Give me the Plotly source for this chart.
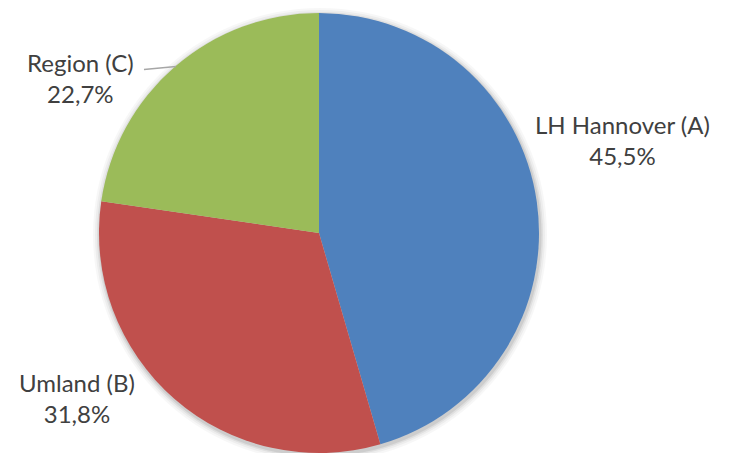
import plotly.graph_objects as go

labels = ["LH Hannover (A)", "Umland (B)", "Region (C)"]
values = [45.5, 31.8, 22.7]
colors = ["#4F81BD", "#C0504D", "#9BBB59"]

W, H = 729, 453
OFF = 8  # page body margin offset
cx, cy, r = 319 - OFF, 233 - OFF, 220  # pixel geometry of the pie (figure coords)

fig = go.Figure()
fig.add_trace(go.Pie(
    labels=labels, values=values, sort=False, direction="clockwise", rotation=0,
    marker=dict(colors=colors, line=dict(width=0)),
    textinfo="none", hoverinfo="label+percent", showlegend=False,
    domain=dict(x=[(cx - r) / W, (cx + r) / W], y=[(H - cy - r) / H, (H - cy + r) / H]),
))

# soft shadow around the pie
shapes = []
for extra, op in [(7, 0.03), (5, 0.04), (3, 0.06), (1.5, 0.08)]:
    shapes.append(dict(
        type="circle", xref="paper", yref="paper", xsizemode="pixel", ysizemode="pixel",
        xanchor=(cx + 1) / W, yanchor=(H - cy - 2) / H,
        x0=-(r + extra), x1=r + extra, y0=-(r + extra), y1=r + extra,
        fillcolor=f"rgba(0,0,0,{op})", line=dict(width=0), layer="below",
    ))
# leader line for Region (C)
shapes.append(dict(type="line", xref="paper", yref="paper",
                   x0=(144 - OFF) / W, y0=1 - (69.5 - OFF) / H,
                   x1=(176 - OFF) / W, y1=1 - (66.5 - OFF) / H,
                   line=dict(color="#A6A6A6", width=1.3)))

label_pos = [(622, 140), (77, 398), (80, 78)]
annotations = []
for lab, val, (px, py) in zip(labels, values, label_pos):
    annotations.append(dict(
        x=(px - OFF) / W, y=1 - (py - OFF) / H, xref="paper", yref="paper", showarrow=False,
        text=f"{lab}<br>{val:.1f}%".replace(".", ","),
        font=dict(family="Lato, Carlito, Calibri, sans-serif", size=24, color="#404040"),
        align="center", xanchor="center", yanchor="middle",
    ))

fig.update_layout(
    width=W, height=H, margin=dict(l=0, r=0, t=0, b=0),
    paper_bgcolor="white", plot_bgcolor="white",
    shapes=shapes, annotations=annotations,
)
fig.write_html("out.html")
